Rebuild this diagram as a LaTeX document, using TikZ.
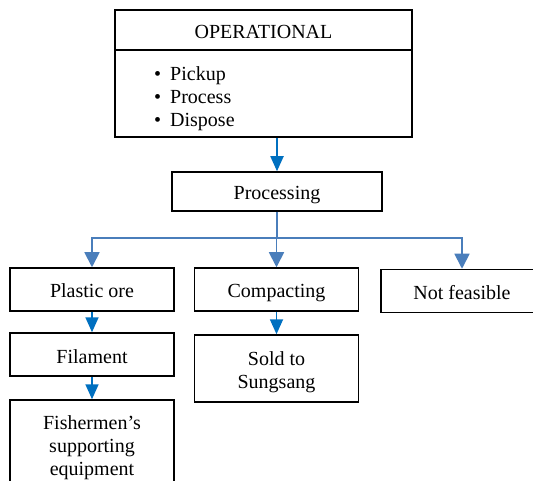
\documentclass[tikz,border=0pt]{standalone}
\usepackage{fontspec}
\setmainfont{Liberation Serif}
\usetikzlibrary{arrows.meta}

\definecolor{flowblue}{HTML}{0070C0}
\definecolor{branchblue}{HTML}{4A7EBB}

\tikzset{
  box/.style={draw, line width=1.5pt, minimum width=164pt, minimum height=43pt,
    inner sep=2pt, align=center, text height=17pt, text depth=0pt,
    font=\fontsize{20}{23}\selectfont},
  txt/.style={inner sep=0pt, align=left, font=\fontsize{20}{23}\selectfont},
  flow/.style={draw=flowblue, line width=1.8pt, -{Triangle[length=15pt,width=13pt]}},
  branch/.style={draw=branchblue, line width=1.8pt, -{Triangle[length=15pt,width=15pt]}},
  busline/.style={draw=branchblue, line width=1.8pt}
}

\begin{document}
\begin{tikzpicture}[x=1pt,y=-1pt]
        \useasboundingbox (0,0) rectangle (533,481);
        \clip (0,0) rectangle (533,481);
        % top block
        \node[box, minimum width=297pt, minimum height=40pt] (oper) at (263.5,30) {OPERATIONAL};
        \node[box, minimum width=297pt, minimum height=87pt] (operlist) at (263.5,93.5) {};
        \node[txt, anchor=west] (tasks) at (154,99)
          {\textbullet\hspace{9pt}Pickup\\ \textbullet\hspace{9pt}Process\\ \textbullet\hspace{9pt}Dispose};
        \node[box, minimum width=210pt, minimum height=39pt] (proc) at (277,191.5) {Processing};
        % second row
        \node[box] (plastic) at (92,289.5) {Plastic ore};
        \node[box] (compact) at (276.5,289.5) {Compacting};
        \node[box, minimum width=162pt] (notfeas) at (462,291) {Not feasible};
        % third row
        \node[box] (filament) at (92,354.5) {Filament};
        \node[box, minimum height=67pt, text height=40pt] (sold) at (276.5,368.5) {Sold to\\Sungsang};
        \node[box, minimum height=94pt, text height=57pt] (fisher) at (92,447)
          {Fishermen’s\\supporting\\equipment};
        % connectors
        \coordinate (bus) at (277,238);
        \draw[flow] (proc.north |- operlist.south) -- (proc.north);
        \draw[busline] (proc.south) -- (bus);
        \draw[branch] (bus) -| (plastic.north);
        \draw[branch] (bus) -| (compact.north);
        \draw[branch] (bus) -| (notfeas.north);
        \draw[flow] (plastic.south) -- (filament.north);
        \draw[flow] (filament.south) -- (fisher.north);
        \draw[flow] (compact.south) -- (sold.north);
      \end{tikzpicture}
\end{document}
